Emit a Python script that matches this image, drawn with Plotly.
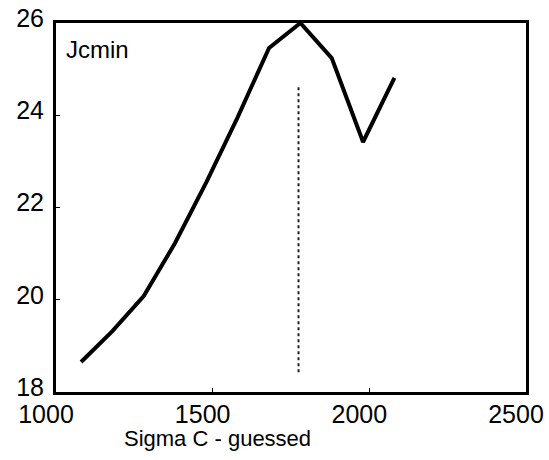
import plotly.graph_objects as go

sigma_c = [1080, 1180, 1280, 1380, 1480, 1580, 1680, 1780, 1880, 1980, 2080]
jcmin = [18.65, 19.32, 20.08, 21.23, 22.55, 23.96, 25.46, 26.0, 25.24, 23.42, 24.81]

marker_x = [1774, 1774]
marker_y = [18.43, 24.61]

x_ticks = [1000, 1500, 2000, 2500]
y_ticks = [18, 20, 22, 24, 26]

FONT = "Liberation Sans, Arial, sans-serif"

fig = go.Figure()
fig.add_trace(go.Scatter(x=sigma_c, y=jcmin, mode="lines",
                         line=dict(color="black", width=4), showlegend=False))
fig.add_trace(go.Scatter(x=marker_x, y=marker_y, mode="lines",
                         line=dict(color="#222222", width=2, dash="dot"), showlegend=False))

fig.update_layout(
    width=549, height=460,
    margin=dict(l=56, r=23, t=23, b=68, autoexpand=False),
    paper_bgcolor="white", plot_bgcolor="white",
    font=dict(family=FONT, color="black"),
    xaxis=dict(range=[1000, 2500], tickvals=x_ticks, ticktext=[str(v) for v in x_ticks],
               showline=True, linewidth=3, linecolor="black", mirror=True,
               ticks="inside", ticklen=4, tickwidth=1, tickcolor="black",
               showgrid=False, zeroline=False, tickfont=dict(size=25),
               ticklabelshift=-10, ticklabelstandoff=-2, automargin=False),
    yaxis=dict(range=[18, 26], tickvals=y_ticks, ticktext=[str(v) for v in y_ticks],
               showline=True, linewidth=3, linecolor="black", mirror=True,
               ticks="inside", ticklen=4, tickwidth=1, tickcolor="black",
               showgrid=False, zeroline=False, tickfont=dict(size=25),
               ticklabelshift=-5, ticklabelstandoff=4, automargin=False),
    annotations=[
        dict(text="Sigma C - guessed", xref="paper", yref="paper", x=0.3426, y=-0.125,
             xanchor="center", yanchor="middle", showarrow=False, font=dict(size=22)),
        dict(text="Jcmin", xref="paper", yref="paper", x=0.017, y=0.927,
             xanchor="left", yanchor="middle", showarrow=False, font=dict(size=24)),
    ],
)

fig.write_html("out.html")
